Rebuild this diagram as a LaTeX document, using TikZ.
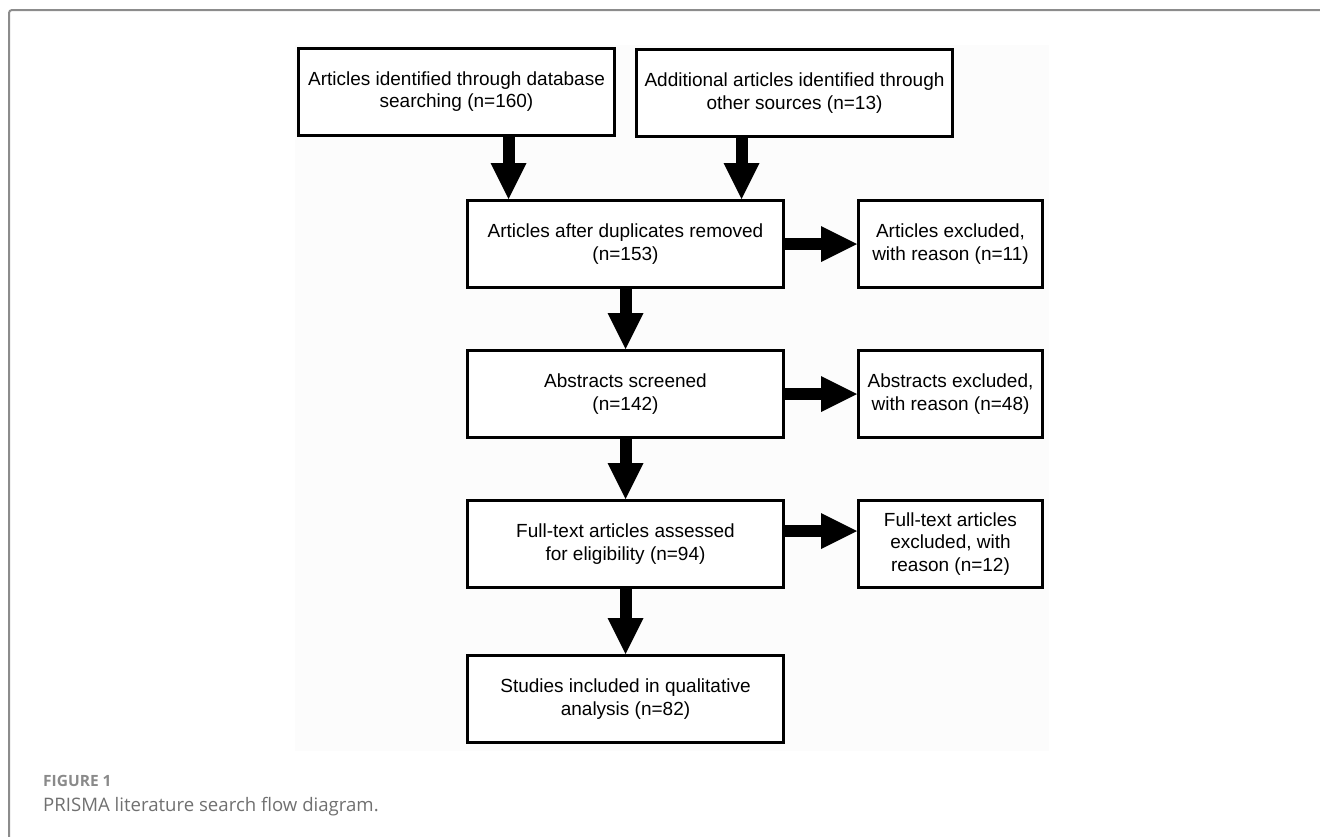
\documentclass[tikz,border=0pt]{standalone}
\usepackage{fontspec}
\setmainfont{Liberation Sans}
\newfontfamily\capfont{Open Sans}
\usetikzlibrary{arrows.meta,calc}
\definecolor{bgpale}{HTML}{FCFCFC}
\definecolor{framegray}{HTML}{8C8C8C}
\definecolor{figgray}{HTML}{8A8A8A}
\definecolor{capgray}{HTML}{707070}
\begin{document}
\begin{tikzpicture}[x=1pt,y=-1pt,
  box/.style={draw=black, line width=3pt, fill=white, minimum width=316pt,
    minimum height=87pt, inner sep=0pt, align=center,
    font=\fontsize{19}{22.5}\selectfont},
  sidebox/.style={box, minimum width=184pt},
  blockarrow/.style={line width=12pt, -{Triangle[width=36pt,length=36pt,line width=0pt]}}]
\useasboundingbox (0,0) rectangle (1320,836);
\fill[bgpale] (295,45) rectangle (1049,751);
\draw[framegray, line width=2pt, rounded corners=3pt] (9,845) -- (9,10) -- (1330,10);

\node[box] (b1) at (456.5,91.5) {Articles identified through database\\searching (n=160)};
\node[box] (b2) at (794.5,93) {Additional articles identified through\\other sources (n=13)};
\node[box] (b3) at (625.5,244) {Articles after duplicates removed\\(n=153)};
\node[sidebox] (b4) at (950.5,244) {Articles excluded,\\with reason (n=11)};
\node[box] (b5) at (625.5,394) {Abstracts screened\\(n=142)};
\node[sidebox] (b6) at (950.5,394) {Abstracts excluded,\\with reason (n=48)};
\node[box] (b7) at (625.5,544) {Full-text articles assessed\\for eligibility (n=94)};
\node[sidebox] (b8) at (950.5,544) {Full-text articles\\excluded, with\\reason (n=12)};
\node[box] (b9) at (625.5,699) {Studies included in qualitative\\analysis (n=82)};

\coordinate (c1) at (508.5,0);
\coordinate (c2) at (741.5,0);
\coordinate (r3) at (0,531);

\draw[blockarrow] (b1.south -| c1) -- (b3.north -| c1);
\draw[blockarrow] (b2.south -| c2) -- (b3.north -| c2);
\draw[blockarrow] (b3.south) -- (b5.north);
\draw[blockarrow] (b5.south) -- (b7.north);
\draw[blockarrow] (b7.south) -- (b9.north);
\draw[blockarrow] (b3.east) -- (b4.west);
\draw[blockarrow] (b5.east) -- (b6.west);
\draw[blockarrow] (b7.east |- r3) -- (b8.west |- r3);

\node[anchor=base west, inner sep=0pt, text=figgray, font=\capfont\bfseries\fontsize{15.5}{17}\selectfont] (figlabel) at (43,786) {FIGURE 1};
\node[anchor=base west, inner sep=0pt, text=capgray, font=\capfont\fontsize{18.6}{20}\selectfont] (caption) at (43,811) {PRISMA literature search flow diagram.};
\end{tikzpicture}
\end{document}
